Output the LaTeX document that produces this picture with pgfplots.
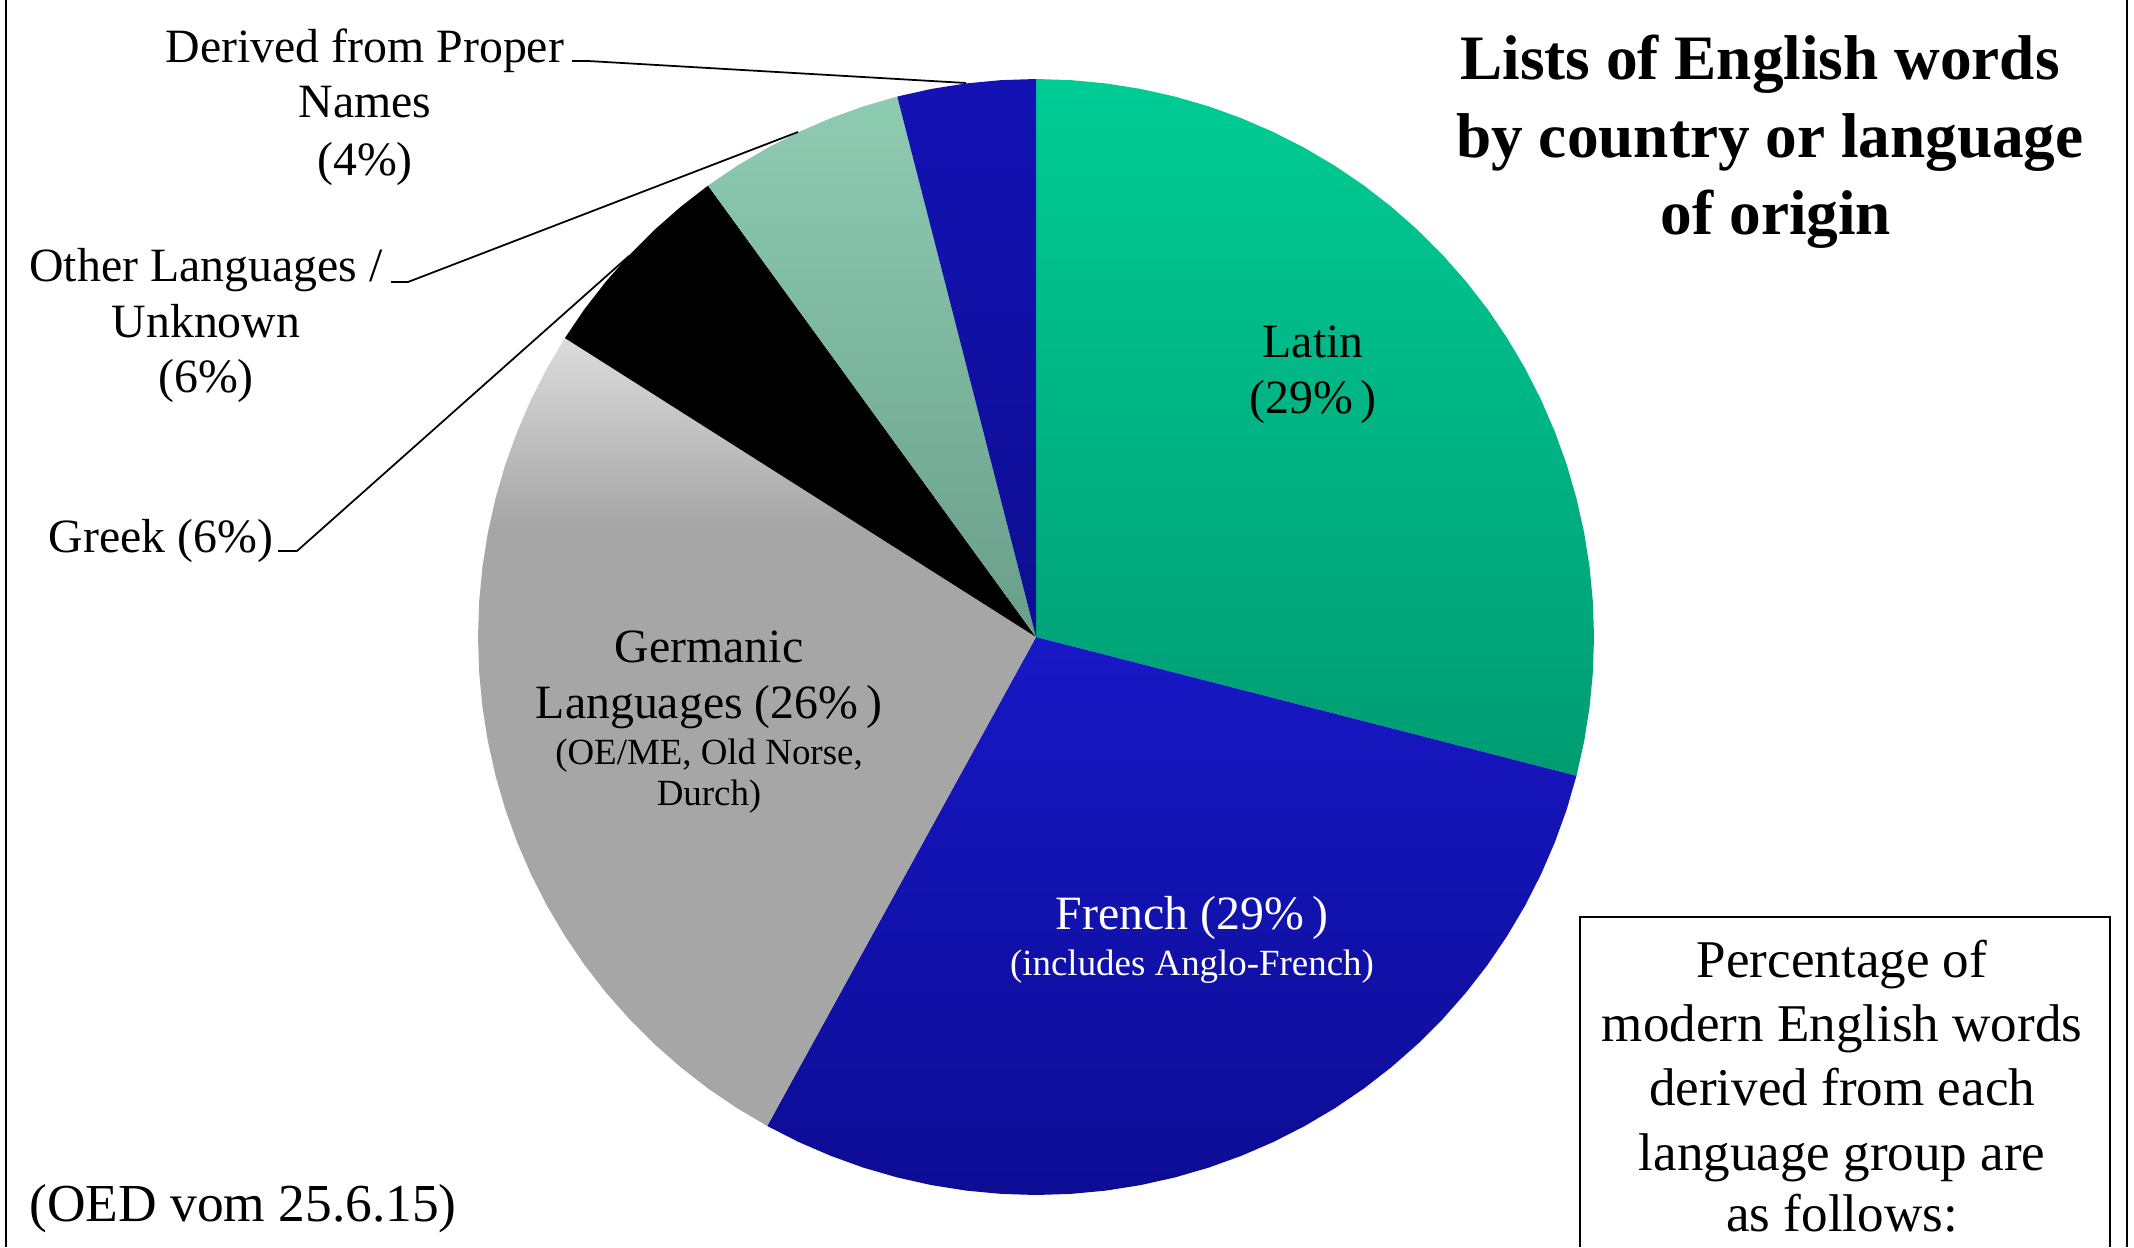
\documentclass[border=0pt]{standalone}
\usepackage{pgfplots}
\pgfplotsset{compat=1.18}
\usepackage{fontspec}
\setmainfont{Liberation Serif}
\definecolor{latT}{HTML}{00CC94}
\definecolor{latB}{HTML}{009C72}
\definecolor{frT}{HTML}{1818C6}
\definecolor{frB}{HTML}{0C0C94}
\definecolor{grT}{HTML}{DCDCDC}
\definecolor{grB}{HTML}{A6A6A6}
\definecolor{otT}{HTML}{8ECCB2}
\definecolor{otB}{HTML}{6A9E8A}
\definecolor{nmT}{HTML}{1412B4}
\definecolor{nmB}{HTML}{0E0E92}
\pgfdeclareverticalshading{germshade}{100bp}{color(0bp)=(grB); color(25bp)=(grB); color(63bp)=(grB); color(75bp)=(grT); color(100bp)=(grT)}
\pgfplotsset{table/pie/.style={x expr={1036+558*\thisrow{r}*sin(3.6*\thisrow{p})}, y expr={637-558*\thisrow{r}*cos(3.6*\thisrow{p})}, row sep=\\}}
\begin{document}
\begin{tikzpicture}
\begin{axis}[name=ax, width=21.34cm, height=12.47cm, scale only axis,
  xmin=0, xmax=2134, ymin=0, ymax=1247, y dir=reverse, hide axis, clip=false]
% Latin 29%
\addplot[draw=none, top color=latT, bottom color=latB] table[pie] {
p r \\ 0 0 \\ 0 1 \\ 1 1 \\ 2 1 \\ 3 1 \\ 4 1 \\ 5 1 \\ 6 1 \\ 7 1 \\ 8 1 \\ 9 1 \\ 10 1 \\ 11 1 \\ 12 1 \\ 13 1 \\ 14 1 \\ 15 1 \\ 16 1 \\ 17 1 \\ 18 1 \\ 19 1 \\ 20 1 \\ 21 1 \\ 22 1 \\ 23 1 \\ 24 1 \\ 25 1 \\ 26 1 \\ 27 1 \\ 28 1 \\ 29 1 \\ 0 0 \\
};
% French 29%
\addplot[draw=none, top color=frT, bottom color=frB] table[pie] {
p r \\ 0 0 \\ 29 1 \\ 30 1 \\ 31 1 \\ 32 1 \\ 33 1 \\ 34 1 \\ 35 1 \\ 36 1 \\ 37 1 \\ 38 1 \\ 39 1 \\ 40 1 \\ 41 1 \\ 42 1 \\ 43 1 \\ 44 1 \\ 45 1 \\ 46 1 \\ 47 1 \\ 48 1 \\ 49 1 \\ 50 1 \\ 51 1 \\ 52 1 \\ 53 1 \\ 54 1 \\ 55 1 \\ 56 1 \\ 57 1 \\ 58 1 \\ 0 0 \\
};
% Germanic 26%
\addplot[draw=none, shading=germshade] table[pie] {
p r \\ 0 0 \\ 58 1 \\ 59 1 \\ 60 1 \\ 61 1 \\ 62 1 \\ 63 1 \\ 64 1 \\ 65 1 \\ 66 1 \\ 67 1 \\ 68 1 \\ 69 1 \\ 70 1 \\ 71 1 \\ 72 1 \\ 73 1 \\ 74 1 \\ 75 1 \\ 76 1 \\ 77 1 \\ 78 1 \\ 79 1 \\ 80 1 \\ 81 1 \\ 82 1 \\ 83 1 \\ 84 1 \\ 0 0 \\
};
% Greek 6%
\addplot[draw=none, fill=black] table[pie] {
p r \\ 0 0 \\ 84 1 \\ 85 1 \\ 86 1 \\ 87 1 \\ 88 1 \\ 89 1 \\ 90 1 \\ 0 0 \\
};
% Other 6%
\addplot[draw=none, top color=otT, bottom color=otB] table[pie] {
p r \\ 0 0 \\ 90 1 \\ 91 1 \\ 92 1 \\ 93 1 \\ 94 1 \\ 95 1 \\ 96 1 \\ 0 0 \\
};
% Proper names 4%
\addplot[draw=none, top color=nmT, bottom color=nmB] table[pie] {
p r \\ 0 0 \\ 96 1 \\ 97 1 \\ 98 1 \\ 99 1 \\ 100 1 \\ 0 0 \\
};
% leader lines
\addplot[black, line width=0.5pt] coordinates {(572,61) (588,61) (966,83)};
\addplot[black, line width=0.5pt] coordinates {(391,282) (408,282) (798,132)};
\addplot[black, line width=0.5pt] coordinates {(278,551) (297,551) (629,256)};
% frame and box
\addplot[black, line width=0.6pt] coordinates {(6,0) (6,1247)};
\addplot[black, line width=0.6pt] coordinates {(2127,0) (2127,1247)};
\addplot[black, line width=0.6pt] coordinates {(1580,1247) (1580,917) (2110,917) (2110,1247)};
% title
\node[anchor=base, font=\fontsize{18}{21}\selectfont\bfseries] at (axis cs:1760,80) {Lists of English words};
\node[anchor=base, font=\fontsize{18}{21}\selectfont\bfseries] at (axis cs:1770,157) {by country or language};
\node[anchor=base, font=\fontsize{18}{21}\selectfont\bfseries] at (axis cs:1776,234) {of origin};
% labels
\tikzset{lab/.style={anchor=base, font=\fontsize{13.6}{16}\selectfont}, sub/.style={anchor=base, font=\fontsize{10.5}{12}\selectfont}}
\node[lab] at (axis cs:365,62) {Derived from Proper};
\node[lab] at (axis cs:365,117) {Names};
\node[lab] at (axis cs:365,175) {(4\%)};
\node[lab] at (axis cs:206,281) {Other Languages /};
\node[lab] at (axis cs:206,337) {Unknown};
\node[lab] at (axis cs:206,392) {(6\%)};
\node[lab] at (axis cs:161,552) {Greek (6\%)};
\node[lab] at (axis cs:1313,357) {Latin};
\node[lab] at (axis cs:1313,413) {(29\%\,)};
\node[lab] at (axis cs:709,662) {Germanic};
\node[lab] at (axis cs:709,718) {Languages (26\%\,)};
\node[sub] at (axis cs:709,764) {(OE/ME, Old Norse,};
\node[sub] at (axis cs:709,805) {Durch)};
\node[lab, text=white] at (axis cs:1192,929) {French (29\%\,)};
\node[sub, text=white] at (axis cs:1192,975) {(includes Anglo-French)};
\node[anchor=base west, font=\fontsize{15.2}{18}\selectfont] at (axis cs:17,1221) {(OED vom 25.6.15)};
\tikzset{box/.style={anchor=base, font=\fontsize{15.1}{18}\selectfont}}
\node[box] at (axis cs:1842,977) {Percentage of};
\node[box] at (axis cs:1842,1041) {modern English words};
\node[box] at (axis cs:1842,1105) {derived from each};
\node[box] at (axis cs:1842,1170) {language group are};
\node[box] at (axis cs:1842,1231) {as follows:};
\end{axis}
\pgfresetboundingbox
\path (ax.south west) rectangle (ax.north east);
\end{tikzpicture}
\end{document}
